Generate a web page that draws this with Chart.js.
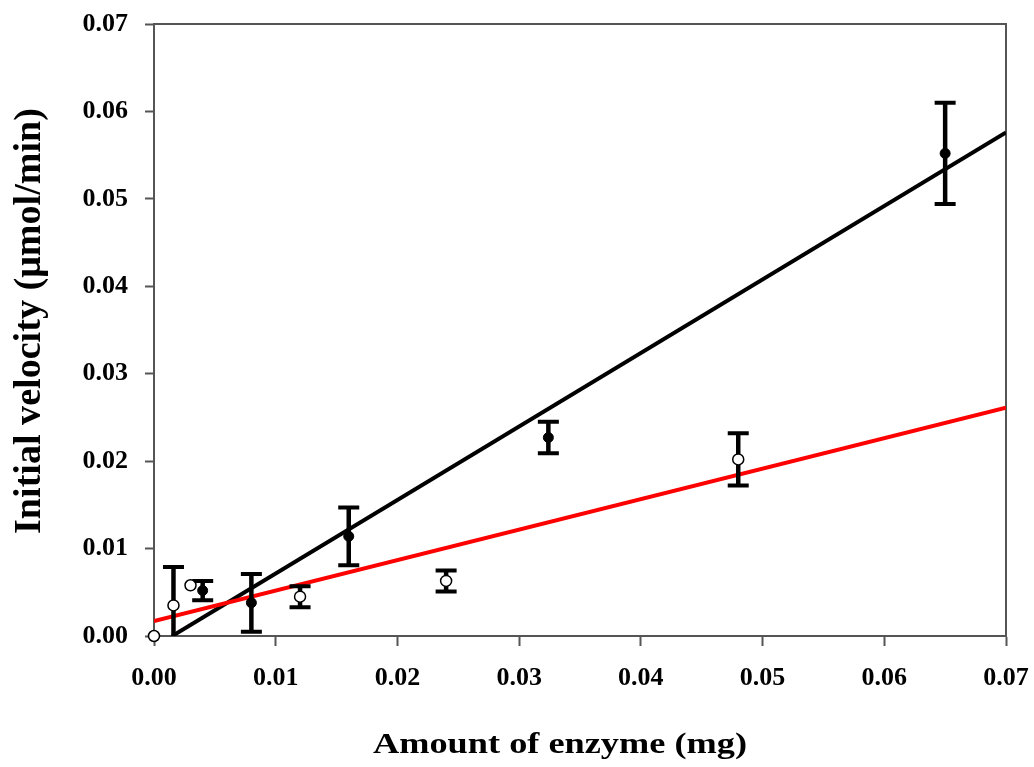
<!DOCTYPE html>
<html>
<head>
<meta charset="utf-8">
<script src="https://cdn.jsdelivr.net/npm/chart.js@4/dist/chart.umd.min.js"></script>
<style>
  html, body { margin: 0; padding: 0; background: #fff; }
  #wrap { width: 1034px; height: 767px; }
</style>
</head>
<body>
<div id="wrap"><canvas id="chart"></canvas></div>
<script>
// open circles
const xOpen = [0, 0.0016, 0.003, 0.012, 0.024, 0.048];
const yOpen = [0, 0.0035, 0.0058, 0.0045, 0.0063, 0.0202];
const errOpen = [0, 0.0044, 0, 0.0012, 0.0012, 0.0030];

// filled circles
const xFilled = [0.004, 0.008, 0.016, 0.0324, 0.065];
const yFilled = [0.0052, 0.0038, 0.0114, 0.0227, 0.0552];
const errFilled = [0.0011, 0.0033, 0.0033, 0.0018, 0.0058];

// regression lines
const fitBlackX = [0.0015, 0.07];
const fitBlackY = [0, 0.0576];
const fitRedX = [0, 0.07];
const fitRedY = [0.0017, 0.0261];

const axisMin = 0, axisMax = 0.07, axisStep = 0.01;
const xTitle = 'Amount of enzyme (mg)';
const yTitle = 'Initial velocity (μmol/min)';

const toPoints = (xs, ys) => xs.map((x, i) => ({ x: x, y: ys[i] }));

// error bars drawn right after the lines, under the markers
const errorBars = {
  id: 'errorBars',
  afterDatasetDraw(chart, args) {
    if (chart.data.datasets[args.index].label !== 'fitRed') return;
    const { ctx, chartArea, scales } = chart;
    ctx.save();
    ctx.beginPath();
    ctx.rect(chartArea.left, chartArea.top, chartArea.right - chartArea.left, chartArea.bottom - chartArea.top);
    ctx.clip();
    ctx.strokeStyle = '#000';
    ctx.lineCap = 'butt';
    const draw = (xs, ys, es) => {
      xs.forEach((x, i) => {
        if (!es[i]) return;
        const px = scales.x.getPixelForValue(x);
        const top = scales.y.getPixelForValue(ys[i] + es[i]);
        const bot = scales.y.getPixelForValue(ys[i] - es[i]);
        ctx.lineWidth = 4.5;
        ctx.beginPath();
        ctx.moveTo(px, top);
        ctx.lineTo(px, bot);
        ctx.stroke();
        ctx.lineWidth = 4;
        ctx.beginPath();
        ctx.moveTo(px - 10.5, top);
        ctx.lineTo(px + 10.5, top);
        ctx.moveTo(px - 10.5, bot);
        ctx.lineTo(px + 10.5, bot);
        ctx.stroke();
      });
    };
    draw(xFilled, yFilled, errFilled);
    draw(xOpen, yOpen, errOpen);
    ctx.restore();
  }
};

// top and right sides of the frame, plus the axis titles
const frame = {
  id: 'frame',
  beforeDatasetsDraw(chart) {
    const { ctx, chartArea } = chart;
    ctx.save();
    ctx.strokeStyle = '#555';
    ctx.lineWidth = 2;
    ctx.beginPath();
    ctx.moveTo(chartArea.left, chartArea.top);
    ctx.lineTo(chartArea.right, chartArea.top);
    ctx.lineTo(chartArea.right, chartArea.bottom);
    ctx.stroke();
    ctx.restore();
  },
  afterDraw(chart) {
    const { ctx } = chart;
    ctx.save();
    ctx.fillStyle = '#000';
    ctx.textAlign = 'center';
    ctx.textBaseline = 'alphabetic';
    // x title (source text is drawn a bit wide)
    ctx.font = 'bold 30px "Liberation Serif"';
    ctx.translate(560, 753);
    ctx.scale(1.21, 1);
    ctx.fillText(xTitle, 0, 0);
    ctx.restore();

    ctx.save();
    ctx.fillStyle = '#000';
    ctx.textAlign = 'center';
    ctx.textBaseline = 'alphabetic';
    ctx.font = 'bold 37px "Liberation Serif"';
    ctx.translate(40, 321);
    ctx.rotate(-Math.PI / 2);
    ctx.scale(1.03, 1);
    ctx.fillText(yTitle, 0, 0);
    ctx.restore();
  }
};

const tickFont = { family: 'Liberation Serif', size: 26, weight: 'bold' };

// let layout.padding alone decide the plot edges
const noLabelPadding = s => {
  s.paddingTop = 0; s.paddingBottom = 0; s.paddingLeft = 0; s.paddingRight = 0;
};

new Chart(document.getElementById('chart'), {
  type: 'scatter',
  data: {
    datasets: [
      {
        label: 'fitBlack',
        type: 'line',
        data: toPoints(fitBlackX, fitBlackY),
        borderColor: '#000',
        borderWidth: 4,
        pointRadius: 0,
        fill: false,
        order: 3
      },
      {
        label: 'fitRed',
        type: 'line',
        data: toPoints(fitRedX, fitRedY),
        borderColor: '#ff0000',
        borderWidth: 4,
        pointRadius: 0,
        fill: false,
        order: 2
      },
      {
        label: 'filled',
        data: toPoints(xFilled, yFilled),
        pointRadius: 5,
        pointBackgroundColor: '#000',
        pointBorderColor: '#000',
        pointBorderWidth: 1,
        clip: false,
        order: 1
      },
      {
        label: 'open',
        data: toPoints(xOpen, yOpen),
        pointRadius: 5.5,
        pointBackgroundColor: '#fff',
        pointBorderColor: '#000',
        pointBorderWidth: 1.5,
        clip: false,
        order: 0
      }
    ]
  },
  options: {
    responsive: true,
    maintainAspectRatio: false,
    animation: false,
    layout: { padding: { top: 24, right: 28, left: 0, bottom: 0 } },
    plugins: {
      legend: { display: false },
      tooltip: { enabled: false }
    },
    scales: {
      x: {
        type: 'linear',
        min: axisMin,
        max: axisMax,
        afterFit: s => { s.height = 131; noLabelPadding(s); },
        border: { color: '#555', width: 2 },
        grid: { drawOnChartArea: false, tickLength: 10, tickColor: '#555', tickWidth: 2 },
        ticks: {
          stepSize: axisStep,
          padding: 17,
          color: '#000',
          font: tickFont,
          callback: v => v.toFixed(2)
        }
      },
      y: {
        type: 'linear',
        min: axisMin,
        max: axisMax,
        afterFit: s => { s.width = 154; noLabelPadding(s); },
        border: { color: '#555', width: 2 },
        grid: { drawOnChartArea: false, tickLength: 9, tickColor: '#555', tickWidth: 2 },
        ticks: {
          stepSize: axisStep,
          padding: 17,
          color: '#000',
          font: tickFont,
          callback: v => v.toFixed(2)
        }
      }
    }
  },
  plugins: [frame, errorBars]
});
</script>
</body>
</html>
